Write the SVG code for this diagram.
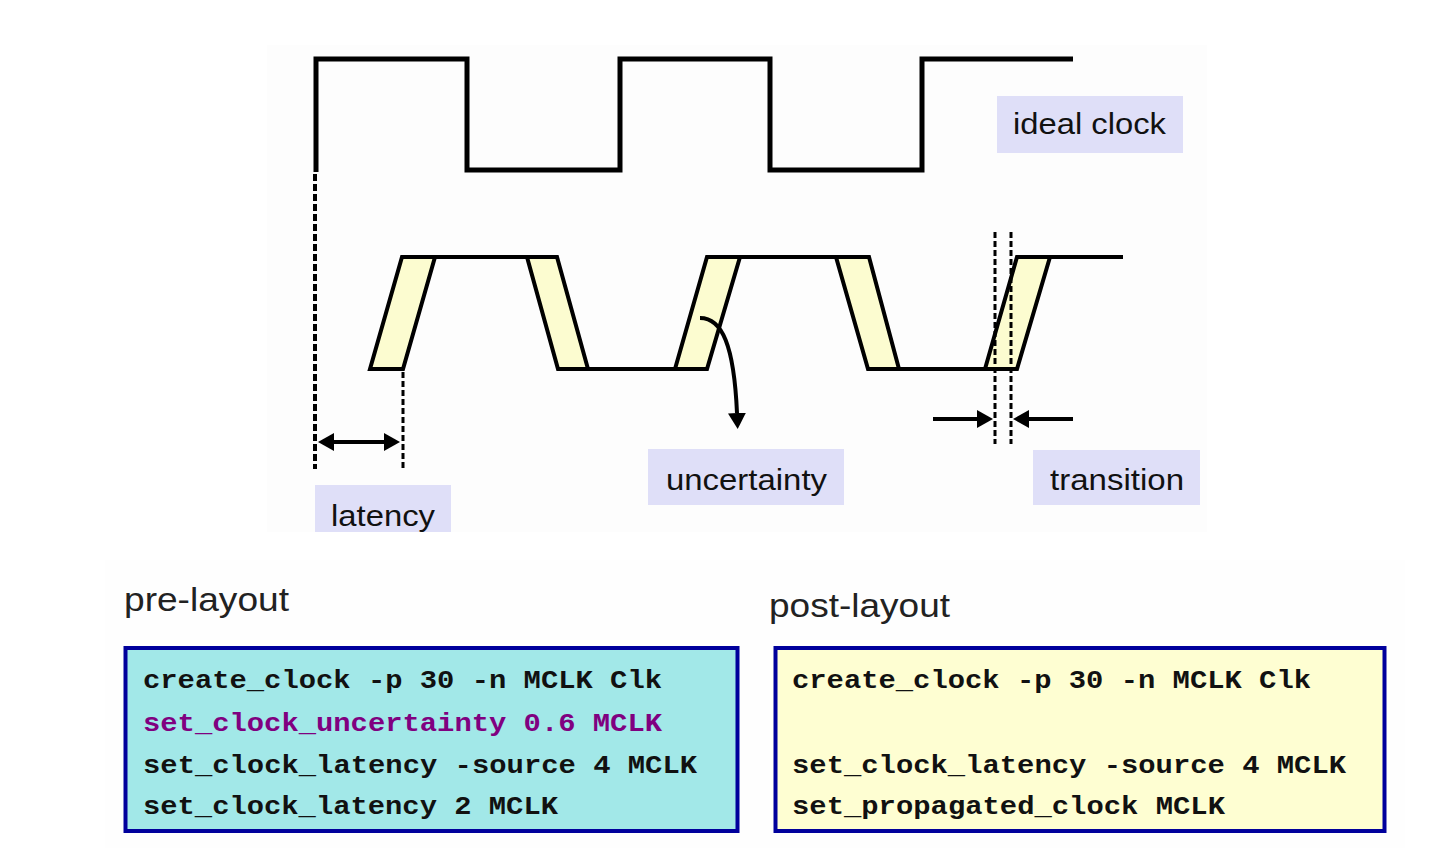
<svg xmlns="http://www.w3.org/2000/svg" width="1433" height="848" viewBox="0 0 1433 848">
<style>
.wave{fill:none;stroke:#000;stroke-width:5;stroke-linejoin:miter}
.band{fill:#fcfcd0;stroke:#000;stroke-width:4;stroke-linejoin:miter}
.line{fill:none;stroke:#000;stroke-width:4}
.dash{fill:none;stroke:#000;stroke-width:4;stroke-dasharray:7 3}
.dash2{fill:none;stroke:#000;stroke-width:3;stroke-dasharray:6 3}
.arr{fill:none;stroke:#000;stroke-width:4;marker-end:url(#ah)}
.arr2{fill:none;stroke:#000;stroke-width:4;marker-start:url(#ah);marker-end:url(#ah)}
.lbl{fill:#dfdff8}
.lt{font-family:"Liberation Sans",Arial,sans-serif;font-size:30px;fill:#111}
.hd{font-family:"Liberation Sans",Arial,sans-serif;font-size:34px;fill:#222}
.code{font-family:"Liberation Mono","Courier New",monospace;font-weight:bold;font-size:25px;fill:#111}
.box{stroke:#00009c;stroke-width:4}
</style>
<defs>
<marker id="ah" viewBox="0 0 16 18" refX="0" refY="9" markerWidth="16" markerHeight="18" markerUnits="userSpaceOnUse" orient="auto-start-reverse">
<path d="M0,0 L16,9 L0,18 z" fill="#000"/>
</marker>
</defs>
<rect x="267" y="45" width="940" height="487" fill="#fdfdfd"/>
<rect x="105" y="560" width="1300" height="288" fill="#fefefe"/>

<g id="ideal-clock-wave">
<path class="wave" d="M316,172 V59 H467 V170 H620 V59 H770 V170 H922 V59 H1073"/>
</g>

<g id="real-clock-wave">
<path class="line" d="M402,257 H557 M558,369 H707 M707,257 H869 M868,369 H1017 M1017,257 H1123"/>
<polygon class="band" points="370,369 403,369 435,257 402,257"/>
<polygon class="band" points="527,257 557,257 588,369 558,369"/>
<polygon class="band" points="675,369 707,369 740,257 707,257"/>
<polygon class="band" points="836,257 869,257 899,369 868,369"/>
<polygon class="band" points="985,369 1017,369 1050,257 1017,257"/>
</g>

<g id="connectors">
<path class="dash" d="M315,174 V469"/>
<path class="dash2" d="M403,372 V469"/>
<path class="arr2" d="M334,442 H384"/>
<path class="dash2" d="M995,232 V444"/>
<path class="dash2" d="M1011,232 V444"/>
<path class="arr" d="M933,419 H977"/>
<path class="arr" d="M1073,419 H1029"/>
<path class="arr" d="M700,318 C722,318 734,345 737,413"/>
</g>

<g id="label-ideal-clock">
<rect class="lbl" x="997" y="96" width="186" height="57"/>
<text class="lt" x="1013" y="134" textLength="153" lengthAdjust="spacingAndGlyphs">ideal clock</text>
</g>
<g id="label-uncertainty">
<rect class="lbl" x="648" y="449" width="196" height="56"/>
<text class="lt" x="666" y="490" textLength="161" lengthAdjust="spacingAndGlyphs">uncertainty</text>
</g>
<g id="label-transition">
<rect class="lbl" x="1033" y="450" width="167" height="55"/>
<text class="lt" x="1050" y="490" textLength="134" lengthAdjust="spacingAndGlyphs">transition</text>
</g>
<g id="label-latency">
<rect class="lbl" x="315" y="485" width="136" height="47"/>
<text class="lt" x="331" y="526" textLength="104" lengthAdjust="spacingAndGlyphs">latency</text>
</g>

<g id="pre-layout">
<text class="hd" x="124" y="611" textLength="165" lengthAdjust="spacingAndGlyphs">pre-layout</text>
<rect class="box" x="125.5" y="648" width="612" height="183" fill="#a2e8e8"/>
<text class="code" x="143" y="688" textLength="519" lengthAdjust="spacingAndGlyphs">create_clock -p 30 -n MCLK Clk</text>
<text class="code" x="143" y="731" textLength="519" lengthAdjust="spacingAndGlyphs" style="fill:#800080">set_clock_uncertainty 0.6 MCLK</text>
<text class="code" x="143" y="773" textLength="554" lengthAdjust="spacingAndGlyphs">set_clock_latency -source 4 MCLK</text>
<text class="code" x="143" y="814" textLength="415" lengthAdjust="spacingAndGlyphs">set_clock_latency 2 MCLK</text>
</g>

<g id="post-layout">
<text class="hd" x="769" y="617" textLength="181" lengthAdjust="spacingAndGlyphs">post-layout</text>
<rect class="box" x="775.5" y="648" width="609" height="183" fill="#fefed2"/>
<text class="code" x="792" y="688" textLength="519" lengthAdjust="spacingAndGlyphs">create_clock -p 30 -n MCLK Clk</text>
<text class="code" x="792" y="773" textLength="554" lengthAdjust="spacingAndGlyphs">set_clock_latency -source 4 MCLK</text>
<text class="code" x="792" y="814" textLength="433" lengthAdjust="spacingAndGlyphs">set_propagated_clock MCLK</text>
</g>
</svg>
